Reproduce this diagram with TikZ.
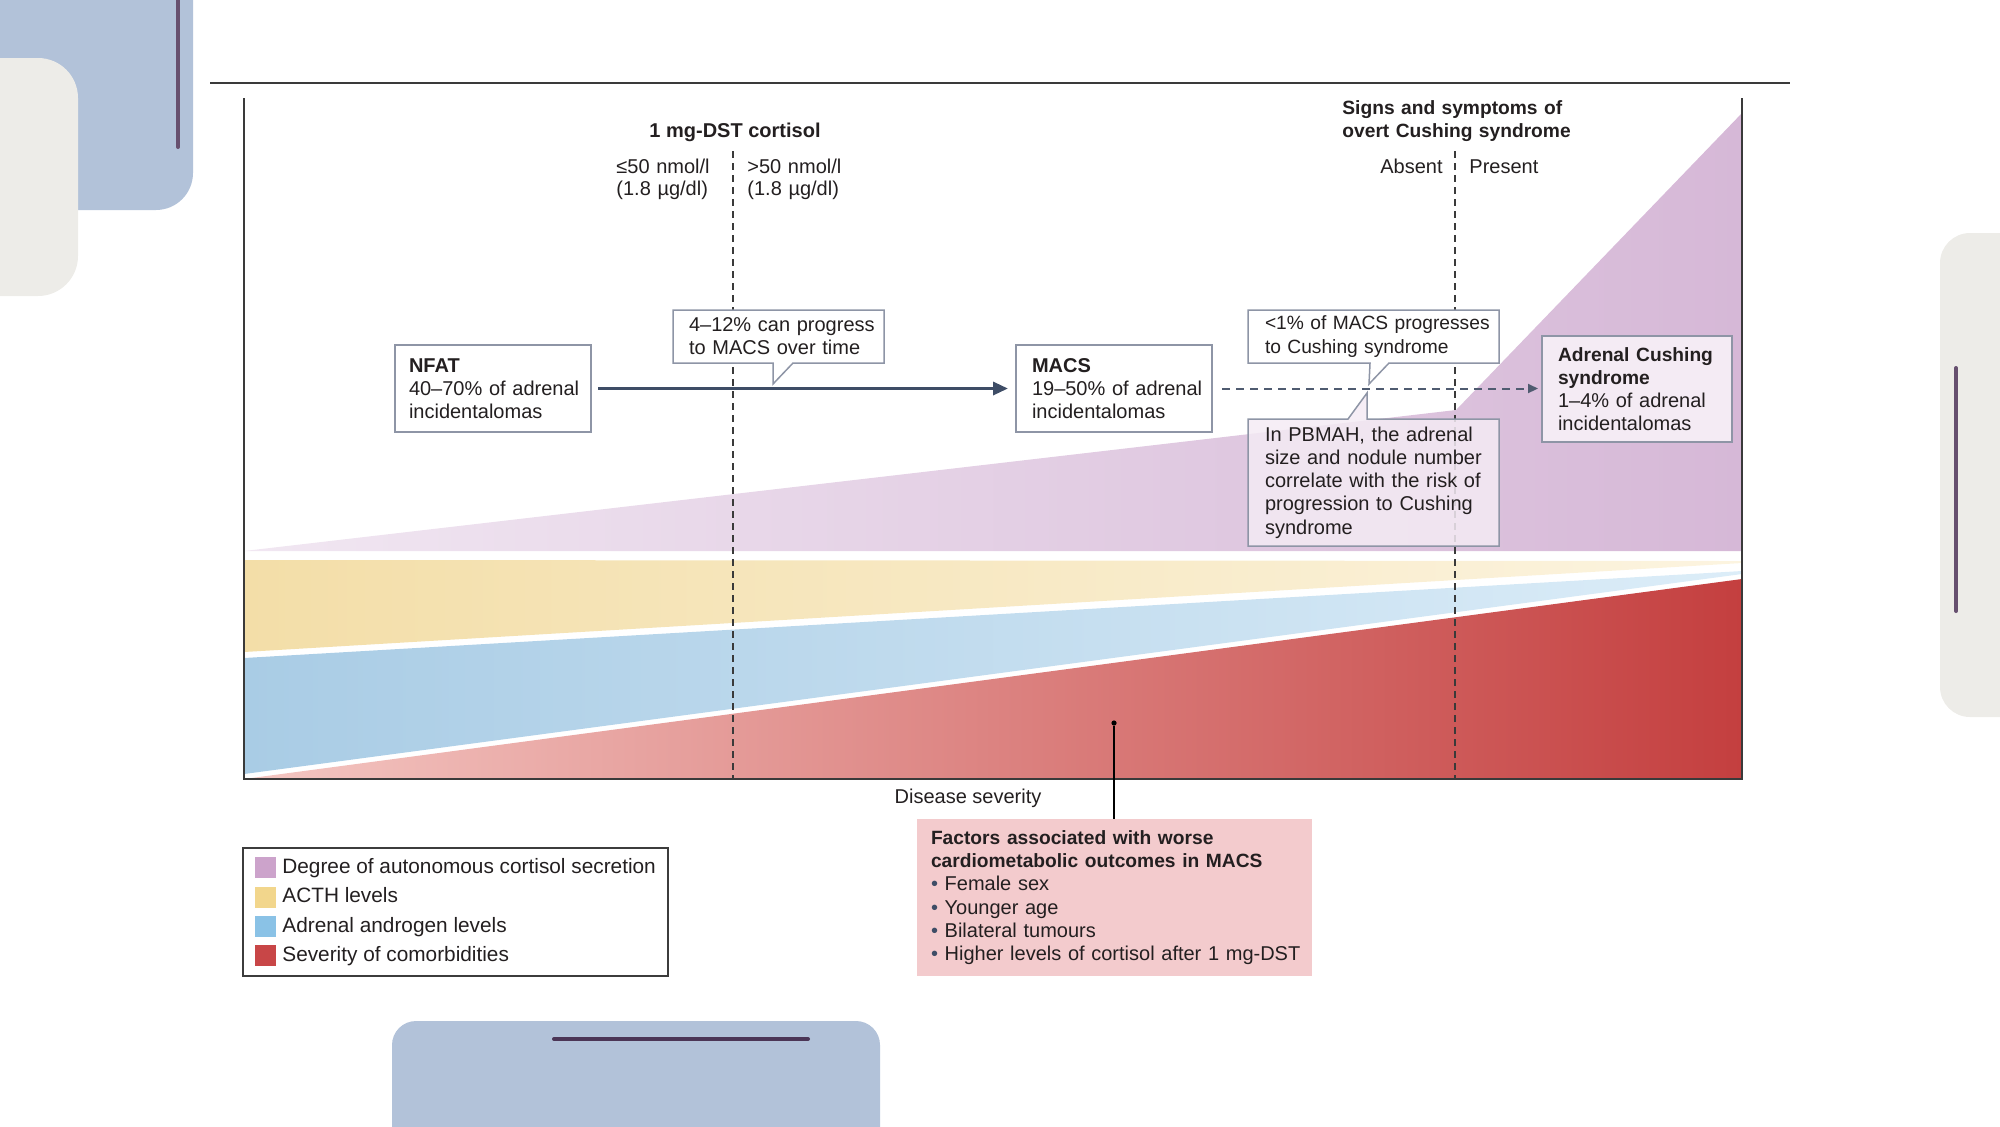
\documentclass[tikz,border=0pt]{standalone}
\usepackage{fontspec}
\setmainfont{Liberation Sans}
\usetikzlibrary{arrows.meta,calc}
\definecolor{decoblue}{HTML}{B2C2D9}
\definecolor{decogrey}{HTML}{EDECE8}
\definecolor{decopurple}{HTML}{67506F}
\definecolor{decodark}{HTML}{4B3556}
\definecolor{txt}{HTML}{231F20}
\definecolor{boxc}{HTML}{8E95A6}
\definecolor{arrc}{HTML}{3E4D66}
\definecolor{darrc}{HTML}{4F5B70}
\definecolor{framec}{HTML}{3A3A3A}
\definecolor{purL}{HTML}{F1E7F2}
\definecolor{purR}{HTML}{D6B8D7}
\definecolor{yelL}{HTML}{F3DEA8}
\definecolor{yelR}{HTML}{FCF4E0}
\definecolor{bluL}{HTML}{A9CCE5}
\definecolor{bluR}{HTML}{DCEDF8}
\definecolor{redL}{HTML}{F4C7C3}
\definecolor{redR}{HTML}{C43F3F}
\definecolor{pbfill}{HTML}{F4EBF4}
\definecolor{facc}{HTML}{F3CBCD}
\definecolor{swP}{HTML}{CCA3CB}
\definecolor{swY}{HTML}{F2D68C}
\definecolor{swB}{HTML}{8AC2E6}
\definecolor{swR}{HTML}{C84647}
\definecolor{legc}{HTML}{3C3C3C}
\newcommand\fsz{\fontsize{10pt}{11.6pt}\selectfont}
\newcommand\mybul{\textcolor{arrc}{\textbullet}\ }
\newcommand\nb[1]{\mbox{#1}}
\newcommand\bx[1]{\mbox{\fontsize{9.6pt}{11.6pt}\selectfont\bfseries #1}}
\begin{document}
\begin{tikzpicture}[x=0.5pt,y=-0.5pt,font=\fsz,text=txt,
  box/.style={rectangle,inner ysep=0pt,outer sep=0pt,align=left,line width=0.75pt},
  boxline/.style={draw=boxc,line width=0.75pt,line join=miter},
  vdash/.style={framec,line width=0.6pt,dash pattern=on 3.5pt off 2.5pt},
  swatch/.style={rectangle,minimum size=10.5pt,inner sep=0pt,draw=none},
  lbl/.style={inner sep=0pt},
  leglbl/.style={inner sep=0pt,anchor=base west,font=\fontsize{10.4pt}{12pt}\selectfont}]
\useasboundingbox (0,0) rectangle (2000,1126);
% decorations
\fill[decoblue,rounded corners=18.5pt] (-60,-60) rectangle (193,210);
\fill[decogrey,rounded corners=20pt] (-60,58) rectangle (78,296);
\draw[decopurple,line width=2pt,line cap=round] (178,-10) -- (178,147);
\fill[decogrey,rounded corners=15pt] (1940,233) rectangle (2060,717);
\draw[decopurple,line width=2pt,line cap=round] (1956,368) -- (1956,611);
\fill[decoblue,rounded corners=12pt] (392,1021) rectangle (880,1180);
\draw[decodark,line width=2pt,line cap=round] (554,1039) -- (808,1039);
% top rule
\draw[framec,line width=0.75pt] (210,83) -- (1790,83);
% bands
\path[left color=purL,right color=purR] (244,551) -- (1456,410) -- (1742,113) -- (1742,551) -- cycle;
\path[left color=yelL,right color=yelR] (244,560) -- (1742,561) -- (1742,563) -- (244,652) -- cycle;
\path[left color=bluL,right color=bluR] (244,658) -- (1742,571) -- (1742,574) -- (244,774) -- cycle;
\path[left color=redL,right color=redR] (244,779) -- (1742,579) -- (1742,779) -- cycle;
% vertical dashed lines
\draw[vdash] (733,151) -- (733,779);
\draw[vdash] (1455,151) -- (1455,779);
% frame
\draw[framec,line width=0.9pt] (244,98) -- (244,779) -- (1742,779) -- (1742,98);
% top labels
\node[lbl,anchor=base] (dst) at (735,137) {\bfseries 1 mg-DST cortisol};
\node[lbl,anchor=base west,text width=60pt,align=left,font=\fontsize{10pt}{11pt}\selectfont] (lo) at (616,173) {\nb{≤50 nmol/l}\\\nb{(1.8 µg/dl)}};
\node[lbl,anchor=base west,text width=60pt,align=left,font=\fontsize{10pt}{11pt}\selectfont] (hi) at (747,173) {\nb{>50 nmol/l}\\\nb{(1.8 µg/dl)}};
\node[lbl,anchor=base west,text width=125pt,align=left,font=\fontsize{9.6pt}{11.5pt}\selectfont\bfseries] (signs) at (1342,114) {\nb{Signs and symptoms of}\\\nb{overt Cushing syndrome}};
\node[lbl,anchor=base east] (absent) at (1443,173) {Absent};
\node[lbl,anchor=base west] (present) at (1469,173) {Present};
% boxes
\node[box,draw=boxc,fill=white,minimum width=98pt,minimum height=43.5pt,text width=84pt,inner xsep=7pt] (nfat) at (493,388.5)
  {\nb{\textbf{NFAT}}\\\nb{40–70\% of adrenal}\\\nb{incidentalomas}};
\node[box,draw=boxc,fill=white,minimum width=98pt,minimum height=43.5pt,text width=82pt,inner xsep=8pt] (macs) at (1114,388.5)
  {\nb{\textbf{MACS}}\\\nb{19–50\% of adrenal}\\\nb{incidentalomas}};
\node[box,draw=boxc,fill=pbfill,minimum width=95pt,minimum height=53pt,text width=79pt,inner xsep=8pt] (adr) at (1637,389)
  {\bx{Adrenal Cushing}\\\bx{syndrome}\\\nb{1–4\% of adrenal}\\\nb{incidentalomas}};
% callout 1
\node[box,fill=white,minimum width=105.5pt,minimum height=26.5pt,text width=89.5pt,inner xsep=8pt] (c1) at (778.5,336.5)
  {\nb{4–12\% can progress}\\\nb{to MACS over time}};
\fill[white] ($(c1.south west)+(100,-1)$) -- ($(c1.south west)+(100,21)$) -- ($(c1.south west)+(121,-1)$) -- cycle;
\draw[boxline] (c1.south west) -- ++(100,0) -- ++(0,21) -- ++(20,-21) -- (c1.south east) -- (c1.north east) -- (c1.north west) -- cycle;
% callout 2
\node[box,fill=white,minimum width=125.5pt,minimum height=26.5pt,text width=108.5pt,inner xsep=8.5pt,font=\fontsize{9.6pt}{11.6pt}\selectfont] (c2) at (1373.5,336.5)
  {\nb{<1\% of MACS progresses}\\\nb{to Cushing syndrome}};
\fill[white] ($(c2.south west)+(122,-1)$) -- ($(c2.south west)+(121,21)$) -- ($(c2.south west)+(142,-1)$) -- cycle;
\draw[boxline] (c2.south west) -- ++(122,0) -- ++(-1,21) -- ++(20,-21) -- (c2.south east) -- (c2.north east) -- (c2.north west) -- cycle;
% PBMAH callout
\node[box,fill=pbfill,fill opacity=0.85,text opacity=1,minimum width=125.5pt,minimum height=63.5pt,text width=108.5pt,inner xsep=8.5pt] (pb) at (1373.5,482.5)
  {\nb{In PBMAH, the adrenal}\\\nb{size and nodule number}\\\nb{correlate with the risk of}\\\nb{progression to Cushing}\\\nb{syndrome}};
\fill[pbfill,fill opacity=0.85] ($(pb.north west)+(100,0)$) -- ($(pb.north west)+(119,-26)$) -- ($(pb.north west)+(119,0)$) -- cycle;
\draw[boxline] (pb.north west) -- ++(100,0) -- ++(19,-26) -- ++(0,26) -- (pb.north east) -- (pb.south east) -- (pb.south west) -- cycle;
% arrows
\draw[arrc,line width=1.6pt,-{Triangle[length=7.5pt,width=6.5pt]},shorten <=3.5pt,shorten >=4pt] (nfat.east) -- (macs.west);
\draw[darrc,line width=1pt,dash pattern=on 4pt off 3pt,-{Triangle[length=5pt,width=4.5pt]},shorten <=5pt,shorten >=2pt] (macs.east) -- (macs.east -| adr.west);
% axis label
\node[lbl,anchor=base] (sev) at (968,803) {Disease severity};
% factors
\node[box,fill=facc,minimum width=197.5pt,minimum height=78.5pt,text width=183.5pt,inner xsep=7pt] (fac) at (1114.5,897.5)
  {\bx{Factors associated with worse}\\\bx{cardiometabolic outcomes in MACS}\\\nb{\mybul Female sex}\\\nb{\mybul Younger age}\\\nb{\mybul Bilateral tumours}\\\nb{\mybul Higher levels of cortisol after 1 mg-DST}};
\node[circle,fill=black,inner sep=0pt,minimum size=2.6pt] (dot) at (1114,723) {};
\draw[black,line width=0.6pt] (dot) -- (dot |- fac.north);
% legend
\node[draw=legc,line width=0.75pt,minimum width=212.5pt,minimum height=64pt,inner sep=0pt] (leg) at (455.5,912) {};
\node[swatch,fill=swP] (s1) at (265.5,867.5) {};
\node[swatch,fill=swY] (s2) at (265.5,897) {};
\node[swatch,fill=swB] (s3) at (265.5,926.5) {};
\node[swatch,fill=swR] (s4) at (265.5,955.5) {};
\node[leglbl] (l1) at (282,873) {Degree of autonomous cortisol secretion};
\node[leglbl] (l2) at (282,902.5) {ACTH levels};
\node[leglbl] (l3) at (282,932) {Adrenal androgen levels};
\node[leglbl] (l4) at (282,961) {Severity of comorbidities};
\end{tikzpicture}
\end{document}
